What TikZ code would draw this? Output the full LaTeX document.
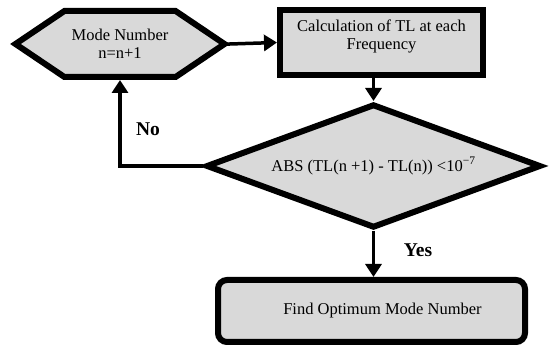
\documentclass[tikz,border=0pt]{standalone}
\usepackage{fontspec}
\setmainfont{Liberation Serif}
\usetikzlibrary{shapes.geometric,shapes.symbols,arrows.meta}
\tikzset{
  flowbox/.style={draw,line width=6pt,fill=black!15,inner sep=0pt,
    font=\fontsize{16.5}{18.5}\selectfont},
  flowline/.style={line width=3.5pt,->},
  answer/.style={font=\fontsize{19.5}{22}\selectfont\bfseries}
}
\begin{document}
\begin{tikzpicture}[x=1pt,y=-1pt,>={Triangle[length=13pt,width=16pt]}]
\useasboundingbox (0,0) rectangle (552,347);
\node[flowbox,align=center,signal,signal to=west and east,signal pointer angle=68,
  minimum width=209pt,minimum height=66pt] (mode) at (120,44) {Mode Number\\n=n+1};
%%%%%%%%%%%%%%%%
\node[flowbox,align=center,minimum width=203pt,minimum height=65pt,text depth=16pt]
  (calc) at (381.5,42.5) {Calculation of TL at each\\Frequency};
%%%%%%%%%%%%%%%%
\node[flowbox,diamond,aspect=2.7,minimum width=335pt,minimum height=124pt]
  (test) at (373.5,166) {ABS (TL(n +1) - TL(n)) <10\textsuperscript{−7}};
%%%%%%%%%%%%%%%%
\node[flowbox,rounded corners=9pt,minimum width=307pt,minimum height=62pt]
  (optimum) at (371.5,311) {\hspace*{22pt}Find Optimum Mode Number};
%%%%%%%%%%%%%%%%
\draw [flowline,shorten <=-5pt] (mode.east) -- (calc.west);
\draw [flowline] (calc.south -| test.north) -- (test.north);
\draw [flowline] (test.south) -- (test.south |- optimum.north);
\draw [flowline] (test.west) -| (mode.south);
%%%%%%%%%%%%%%%%
\node[answer] (no) at (148,129) {No};
\node[answer] (yes) at (418,250) {Yes};
\end{tikzpicture}
\end{document}
